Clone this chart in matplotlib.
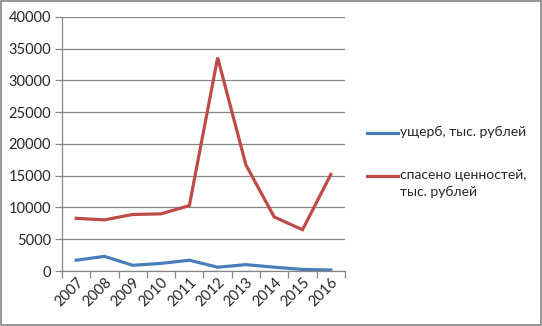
import matplotlib.pyplot as plt
from matplotlib.lines import Line2D
from matplotlib.patches import Rectangle

years = ['2007', '2008', '2009', '2010', '2011', '2012', '2013', '2014', '2015', '2016']
damage = [1700, 2300, 900, 1200, 1700, 600, 1000, 600, 250, 150]
saved = [8300, 8050, 8900, 9000, 10300, 33600, 16700, 8500, 6500, 15200]
labels = ['ущерб, тыс. рублей', 'спасено ценностей,\nтыс. рублей']
colors = ['#4A7EBB', '#BE4B48']
grey = '#868686'

plt.rcParams['font.family'] = ['Lato', 'DejaVu Sans']

fig = plt.figure(figsize=(5.42, 3.26), dpi=100)
ax = fig.add_axes([0.1144, 0.1687, 0.5221, 0.7792])

x = list(range(1, len(years) + 1))
ax.plot(x, damage, color=colors[0], lw=2.3, solid_joinstyle='miter')
ax.plot(x, saved, color=colors[1], lw=2.3, solid_joinstyle='miter')

ax.set_xlim(0.5, len(years) + 0.5)
ax.set_ylim(0, 40000)
ax.set_yticks(range(0, 40001, 5000))
ax.yaxis.grid(True, color=grey, lw=0.9)
ax.set_axisbelow(True)

# category boundaries as major ticks, labels at centres
ax.set_xticks([i + 0.5 for i in range(len(years) + 1)])
ax.set_xticklabels([])
ax.set_xticks(x, minor=True)
ax.set_xticklabels(years, minor=True, rotation=45, ha='right', va='top',
                   rotation_mode='anchor', fontsize=10.5, color='#262626')
ax.tick_params(axis='x', which='minor', length=0, pad=3)
ax.tick_params(axis='x', which='major', length=5, color=grey, width=0.9)
ax.tick_params(axis='y', length=5, color=grey, width=0.9, labelsize=10.5,
               labelcolor='#262626', pad=3)

for s in ['top', 'right']:
    ax.spines[s].set_visible(False)
for s in ['left', 'bottom']:
    ax.spines[s].set_color(grey)
    ax.spines[s].set_linewidth(0.9)

# legend drawn by hand so the handle sits on the first line of text
leg_y = [1 - 133 / 326, 1 - 176 / 326]
for c, lab, yy in zip(colors, labels, leg_y):
    fig.add_artist(Line2D([367 / 542, 398 / 542], [yy, yy], color=c, lw=2.3))
    fig.text(400 / 542, yy + 0.021, lab, ha='left', va='top', fontsize=10,
             color='#262626', linespacing=1.45)

fig.add_artist(Rectangle((0.002, 0.003), 0.996, 0.994, transform=fig.transFigure,
                         fill=False, ec=grey, lw=1.2))

fig.savefig('out.png', dpi=100)
